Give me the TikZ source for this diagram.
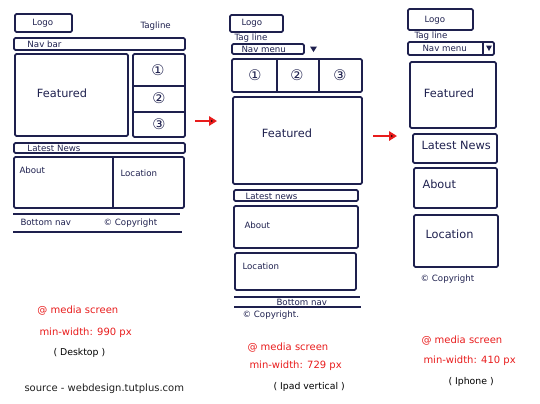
\documentclass[tikz,border=0pt]{standalone}
\usepackage{fontspec}
\setmainfont{DejaVu Sans}
\usetikzlibrary{arrows.meta}
\definecolor{ink}{RGB}{30,32,78}
\definecolor{redink}{RGB}{232,28,28}
\tikzset{every picture/.style={line width=0.75pt}}
\tikzset{
  box/.style={draw=ink, line width=1.3pt, rounded corners=1pt},
  lbl/.style={text=ink, inner sep=0.75pt, font=\fontsize{6.5}{7}\selectfont},
  biglbl/.style={text=ink, inner sep=0.75pt, font=\fontsize{8.5}{9}\selectfont},
  numlbl/.style={text=ink, inner sep=0.75pt, font=\fontsize{11}{12}\selectfont},
  redlbl/.style={text=redink, inner sep=0.75pt, font=\fontsize{7.5}{8}\selectfont},
  devlbl/.style={text=black, inner sep=0.75pt, font=\fontsize{7}{8}\selectfont},
  step arrow/.style={draw=redink, line width=1.8pt, -{Triangle[length=6pt,width=7pt,fill=black]}},
}

\begin{document}
\begin{tikzpicture}[x=0.75pt,y=0.75pt,yscale=-1,xscale=1]
\useasboundingbox (0,0) rectangle (540,404);

%%% Desktop
%Shape: Rectangle [logo]
\draw [box] (15,14) rectangle (72,32) ;
%Shape: Rectangle [nav bar]
\draw [box] (14,38) rectangle (185,50) ;
%Shape: Rectangle [featured]
\draw [box] (15,54) rectangle (128,136) ;
%Shape: Rectangle [side column]
\draw [box] (133,54) rectangle (185,137) ;
%Straight Lines
\draw [box] (133,86) -- (185,86) ;
%Straight Lines
\draw [box] (133,112) -- (185,112) ;
%Shape: Rectangle [latest news]
\draw [box] (14,143) rectangle (185,153) ;
%Shape: Rectangle [about / location]
\draw [box] (14,157) rectangle (184,208) ;
%Straight Lines
\draw [box] (113,157) -- (113,208) ;
%Straight Lines [bottom]
\draw [box] (13,214) -- (180,214) ;
\draw [box] (13,232) -- (182,232) ;

% Text Node
\node (dLogo) [lbl, anchor=west] at (31,23) {Logo};
\node (dTag) [lbl, anchor=west] at (139,26) {Tagline};
\node (dNav) [lbl, anchor=west] at (26,44) {Nav bar};
\node (dFeat) [biglbl] at (62,93) {Featured};
\node (dOne) [numlbl] at (158,70) {①};
\node (dTwo) [numlbl] at (159,98) {②};
\node (dThree) [numlbl] at (159,124) {③};
\node (dNews) [lbl, anchor=west] at (26,148) {Latest News};
\node (dAbout) [lbl, anchor=west] at (18,170) {About};
\node (dLoc) [lbl, anchor=west] at (119,173) {Location};
\node (dBot) [lbl, anchor=west] at (19,222) {Bottom nav};
\node (dCopy) [lbl, anchor=west] at (102,223) {© Copyright};

%%% Tablet
%Shape: Rectangle [logo]
\draw [box] (230,15) rectangle (283,32) ;
%Shape: Rectangle [nav menu]
\draw [box] (232,44) rectangle (304,54) ;
%Shape: Rectangle [1 2 3]
\draw [box] (232,59) rectangle (362,92) ;
\draw [box] (277,59) -- (277,92) ;
\draw [box] (319,59) -- (319,92) ;
%Shape: Rectangle [featured]
\draw [box] (233,97) rectangle (362,184) ;
%Shape: Rectangle [latest news]
\draw [box] (234,190) rectangle (358,201) ;
%Shape: Rectangle [about]
\draw [box] (234,206) rectangle (358,248) ;
%Shape: Rectangle [location]
\draw [box] (235,253) rectangle (356,290) ;
%Straight Lines [bottom]
\draw [box] (234,297) -- (360,297) ;
\draw [box] (234,307) -- (361,307) ;
%Shape: Triangle
\fill [ink] (310,46.5) -- (317,46.5) -- (313.5,52) -- cycle ;

% Text Node
\node (tLogo) [lbl, anchor=west] at (240,23) {Logo};
\node (tTag) [lbl, anchor=west] at (233,38) {Tag line};
\node (tNav) [lbl, anchor=west] at (240,49) {Nav menu};
\node (tOne) [numlbl] at (255,75) {①};
\node (tTwo) [numlbl] at (297,75) {②};
\node (tThree) [numlbl] at (340,75) {③};
\node (tFeat) [biglbl] at (287,133) {Featured};
\node (tNews) [lbl, anchor=west] at (244,196) {Latest news};
\node (tAbout) [lbl, anchor=west] at (243,225) {About};
\node (tLoc) [lbl, anchor=west] at (241,266) {Location};
\node (tBot) [lbl, anchor=west] at (275,302) {Bottom nav};
\node (tCopy) [lbl, anchor=west] at (241,315) {© Copyright.};

%%% Phone
%Shape: Rectangle [logo]
\draw [box] (408,9) rectangle (473,30) ;
%Shape: Rectangle [nav menu]
\draw [box] (408,42) rectangle (494,55) ;
\draw [box] (483,42) -- (483,55) ;
%Shape: Triangle
\fill [ink] (486,45.5) -- (492,45.5) -- (489,51) -- cycle ;
%Shape: Rectangle [featured]
\draw [box] (410,62) rectangle (496,128) ;
%Shape: Rectangle [latest news]
\draw [box] (413,134) rectangle (497,163) ;
%Shape: Rectangle [about]
\draw [box] (414,168) rectangle (497,208) ;
%Shape: Rectangle [location]
\draw [box] (414,215) rectangle (498,267) ;

% Text Node
\node (pLogo) [lbl, anchor=west] at (423,20) {Logo};
\node (pTag) [lbl, anchor=west] at (413,36) {Tag line};
\node (pNav) [lbl, anchor=west] at (421,48.5) {Nav menu};
\node (pFeat) [biglbl] at (449,93) {Featured};
\node (pNews) [biglbl, anchor=west] at (420,145) {Latest News};
\node (pAbout) [biglbl, anchor=west] at (421,184) {About};
\node (pLoc) [biglbl, anchor=west] at (424,234) {Location};
\node (pCopy) [lbl, anchor=west] at (419,279) {© Copyright};

%%% Arrows
\coordinate (arrA) at (195,121);
\coordinate (arrB) at (217,121);
\coordinate (arrC) at (373,136);
\coordinate (arrD) at (397,136);
\draw [step arrow] (arrA) -- (arrB) ;
\draw [step arrow] (arrC) -- (arrD) ;

%%% Media queries
\node (dMedia) [redlbl, anchor=west] at (36,311) {@ media screen};
\node (dWidth) [redlbl, anchor=west] at (38,333) {min-width: 990 px};
\node (dDev) [devlbl, anchor=west] at (52,353) {( Desktop )};
\node (tMedia) [redlbl, anchor=west] at (246,348) {@ media screen};
\node (tWidth) [redlbl, anchor=west] at (248,366) {min-width: 729 px};
\node (tDev) [devlbl, anchor=west] at (272,387) {( Ipad vertical )};
\node (pMedia) [redlbl, anchor=west] at (420,341) {@ media screen};
\node (pWidth) [redlbl, anchor=west] at (422,361) {min-width: 410 px};
\node (pDev) [devlbl, anchor=west] at (447,382) {( Iphone )};

% Text Node
\node (src) [anchor=west, inner sep=0.75pt, text={rgb,255:red,30;green,30;blue,30}, font=\fontsize{7.5}{8}\selectfont] at (23,389) {source - webdesign.tutplus.com};

\end{tikzpicture}
\end{document}
